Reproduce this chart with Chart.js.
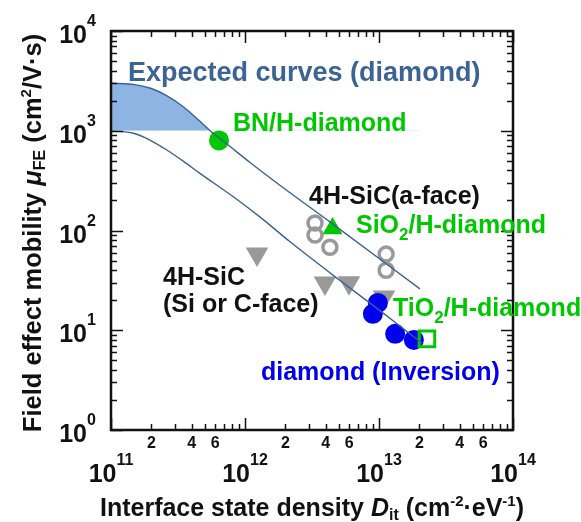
<!DOCTYPE html>
<html><head><meta charset="utf-8">
<script src="https://cdn.jsdelivr.net/npm/chart.js@4"></script>
<style>html,body{margin:0;padding:0;background:#fff}canvas{display:block}</style>
</head><body>
<canvas id="c" width="581" height="522"></canvas>
<script>
// Expected mobility curves for diamond (upper and lower bounds)
const upperCurveDit = [1e11, 1.5e11, 2e11, 2.6e11, 3.5e11, 4.5e11, 5.5e11, 7.3e11, 1.09e12, 1.93e12, 4.3e12, 2.02e13];
const upperCurveMu  = [3000, 2900, 2650, 2250, 1720, 1280, 1000, 740, 480, 268, 122, 26];
const lowerCurveDit = [1e11, 1.47e11, 1.95e11, 2.61e11, 3.5e11, 4.61e11, 8.18e11, 1.29e12, 2.17e12, 5.12e12, 1e13, 2.09e13];
const lowerCurveMu  = [1000, 943, 807, 641, 490, 374, 218, 137, 77, 31.5, 16, 7.45];

// Measured devices
const bnDiamondDit = [6.4e11];
const bnDiamondMu  = [800];
const sio2DiamondDit = [4.5e12];
const sio2DiamondMu  = [105];
const tio2DiamondDit = [2.28e13];
const tio2DiamondMu  = [8.2];
const inversionDit = [9.8e12, 9.0e12, 1.32e13, 1.82e13];
const inversionMu  = [18.8, 14.6, 9.2, 8.0];
const sicAFaceDit = [3.33e12, 3.33e12, 4.3e12, 1.13e13, 1.13e13];
const sicAFaceMu  = [119, 90, 68, 58, 40];
const sicSiCFaceDit = [1.23e12, 3.95e12, 5.97e12, 1.09e13];
const sicSiCFaceMu  = [58, 29.8, 30, 21.5];

// Axis decades and labelled minor ticks
const xDecades = [11, 12, 13, 14];
const yDecades = [0, 1, 2, 3, 4];
const minorLabels = [2, 4, 6];

const FONT = '"Liberation Sans", Arial, sans-serif';
const GREEN = '#00c800';
const BLUE = '#0000ee';
const GREY = '#999999';
const CURVE = '#3a6192';

const pts = (xs, ys) => xs.map((x, i) => ({x, y: ys[i]}));

function fontOf(r) {
  return (r.italic ? 'italic ' : '') + 'bold ' + r.size + 'px ' + FONT;
}
function drawRuns(ctx, runs, x, y, align) {
  let total = 0;
  runs.forEach(r => { ctx.font = fontOf(r); r.w = ctx.measureText(r.t).width; total += r.w; });
  let cx = align === 'center' ? x - total / 2 : align === 'right' ? x - total : x;
  ctx.textAlign = 'left';
  ctx.textBaseline = 'alphabetic';
  runs.forEach(r => { ctx.font = fontOf(r); ctx.fillText(r.t, cx, y + (r.dy || 0)); cx += r.w; });
}
const T = (t, size, dy, italic) => ({t, size, dy: dy || 0, italic: !!italic});

const framePlugin = {
  id: 'frame',
  afterDatasetsDraw(chart) {
    const ctx = chart.ctx;
    const a = chart.chartArea;
    const xs = chart.scales.x, ys = chart.scales.y;
    ctx.save();
    ctx.strokeStyle = '#111';
    ctx.lineWidth = 1.5;
    ctx.beginPath();
    const major = 12, minor = 6;
    // x ticks (bottom and top, pointing inward)
    for (let d = xDecades[0]; d <= xDecades[xDecades.length - 1]; d++) {
      for (let m = 1; m <= 9; m++) {
        if (d === xDecades[xDecades.length - 1] && m > 1) break;
        const px = Math.round(xs.getPixelForValue(m * Math.pow(10, d))) + 0.5;
        const len = m === 1 ? major : minor;
        ctx.moveTo(px, a.bottom); ctx.lineTo(px, a.bottom - len);
        ctx.moveTo(px, a.top); ctx.lineTo(px, a.top + len);
      }
    }
    // y ticks (left and right, pointing inward)
    for (let d = yDecades[0]; d <= yDecades[yDecades.length - 1]; d++) {
      for (let m = 1; m <= 9; m++) {
        if (d === yDecades[yDecades.length - 1] && m > 1) break;
        const py = Math.round(ys.getPixelForValue(m * Math.pow(10, d))) + 0.5;
        const len = m === 1 ? major : minor;
        ctx.moveTo(a.left, py); ctx.lineTo(a.left + len, py);
        ctx.moveTo(a.right, py); ctx.lineTo(a.right - len, py);
      }
    }
    ctx.stroke();
    ctx.lineWidth = 2.5;
    ctx.strokeRect(a.left, a.top, a.right - a.left, a.bottom - a.top);

    // tick labels
    ctx.fillStyle = '#111';
    xDecades.forEach(d => {
      const px = xs.getPixelForValue(Math.pow(10, d));
      drawRuns(ctx, [T('10', 25), T(String(d), 16, -17)], px, 482, 'center');
      if (d < xDecades[xDecades.length - 1]) {
        minorLabels.forEach(m => {
          drawRuns(ctx, [T(String(m), 16)], xs.getPixelForValue(m * Math.pow(10, d)), 448, 'center');
        });
      }
    });
    yDecades.forEach(d => {
      const py = ys.getPixelForValue(Math.pow(10, d));
      drawRuns(ctx, [T('10', 25)], 87, py + 12, 'right');
      drawRuns(ctx, [T(String(d), 16)], 87, py - 5, 'left');
    });

    // axis titles
    drawRuns(ctx, [T('Interface state density ', 25), T('D', 25, 0, true), T('it', 16, 4),
      T(' (cm', 25), T('-2', 15, -10), T('·eV', 25), T('-1', 15, -10), T(')', 25)], 312, 516, 'center');
    ctx.save();
    ctx.translate(41, 233);
    ctx.rotate(-Math.PI / 2);
    drawRuns(ctx, [T('Field effect mobility ', 25.5), T('μ', 25.5, 0, true), T('FE', 16, 4),
      T(' (cm', 25.5), T('2', 15, -10), T('/V·s)', 25.5)], 0, 0, 'center');
    ctx.restore();

    // annotations
    ctx.fillStyle = '#3b6494';
    drawRuns(ctx, [T('Expected curves (diamond)', 27)], 128, 81, 'left');
    ctx.fillStyle = GREEN;
    drawRuns(ctx, [T('BN/H-diamond', 25)], 233, 131, 'left');
    drawRuns(ctx, [T('SiO', 25), T('2', 17, 7), T('/H-diamond', 25)], 356, 233, 'left');
    drawRuns(ctx, [T('TiO', 25), T('2', 17, 7), T('/H-diamond', 25)], 393, 316, 'left');
    ctx.fillStyle = '#111';
    drawRuns(ctx, [T('4H-SiC(a-face)', 25)], 309, 204, 'left');
    drawRuns(ctx, [T('4H-SiC', 25)], 163, 285, 'left');
    drawRuns(ctx, [T('(Si or C-face)', 25)], 163, 312, 'left');
    ctx.fillStyle = BLUE;
    drawRuns(ctx, [T('diamond (Inversion)', 25)], 261, 380, 'left');
    ctx.restore();
  }
};

new Chart(document.getElementById('c'), {
  type: 'scatter',
  data: {
    datasets: [
      {
        label: 'upper', data: pts(upperCurveDit, upperCurveMu), showLine: true,
        borderColor: CURVE, borderWidth: 1.4, pointRadius: 0, cubicInterpolationMode: 'monotone',
        fill: {target: {value: 1000}, above: '#8db4e2', below: 'rgba(0,0,0,0)'}, order: 0
      },
      {
        label: 'lower', data: pts(lowerCurveDit, lowerCurveMu), showLine: true,
        borderColor: CURVE, borderWidth: 1.4, pointRadius: 0, cubicInterpolationMode: 'monotone',
        fill: false, order: 0
      },
      {
        label: 'TiO2/H-diamond', data: pts(tio2DiamondDit, tio2DiamondMu), pointStyle: 'rect',
        pointRadius: 11, borderColor: GREEN, backgroundColor: 'rgba(0,0,0,0)', borderWidth: 3, order: 1
      },
      {
        label: 'SiO2/H-diamond', data: pts(sio2DiamondDit, sio2DiamondMu), pointStyle: 'triangle',
        pointRadius: 11.5, borderColor: GREEN, backgroundColor: GREEN, borderWidth: 0, order: 1
      },
      {
        label: 'BN/H-diamond', data: pts(bnDiamondDit, bnDiamondMu), pointStyle: 'circle',
        pointRadius: 10, borderColor: GREEN, backgroundColor: GREEN, borderWidth: 0, order: 1
      },
      {
        label: 'diamond (Inversion)', data: pts(inversionDit, inversionMu), pointStyle: 'circle',
        pointRadius: 10, borderColor: BLUE, backgroundColor: BLUE, borderWidth: 0, order: 2
      },
      {
        label: '4H-SiC(a-face)', data: pts(sicAFaceDit, sicAFaceMu), pointStyle: 'circle',
        pointRadius: 7, borderColor: GREY, backgroundColor: 'rgba(0,0,0,0)', borderWidth: 3.5, order: 3
      },
      {
        label: '4H-SiC (Si or C-face)', data: pts(sicSiCFaceDit, sicSiCFaceMu), pointStyle: 'triangle',
        rotation: 180, pointRadius: 13, borderColor: GREY, backgroundColor: GREY, borderWidth: 0, order: 3
      }
    ]
  },
  options: {
    responsive: false,
    animation: false,
    devicePixelRatio: 1,
    layout: {padding: {left: 111, right: 68, top: 31, bottom: 92}},
    scales: {
      x: {type: 'logarithmic', min: 1e11, max: 1e14, display: false},
      y: {type: 'logarithmic', min: 1, max: 1e4, display: false}
    },
    plugins: {legend: {display: false}, tooltip: {enabled: false}},
    events: []
  },
  plugins: [framePlugin]
});
</script>
</body></html>
